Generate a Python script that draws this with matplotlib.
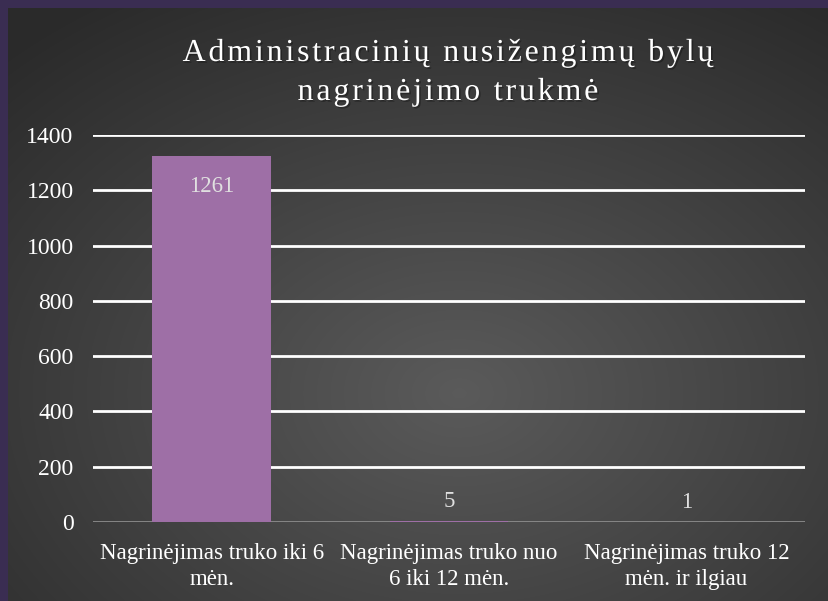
import numpy as np
import matplotlib.pyplot as plt
import matplotlib.patheffects as pe
from matplotlib.font_manager import FontProperties

# data
categories = ["Nagrinėjimas truko iki 6\nmėn.",
              "Nagrinėjimas truko nuo\n6 iki 12 mėn.",
              "Nagrinėjimas truko 12\nmėn. ir ilgiau"]
bar_values = [1325, 5, 1]          # drawn bar heights
label_values = ["1261", "5", "1"]  # data labels as printed
yticks = [0, 200, 400, 600, 800, 1000, 1200, 1400]
title_lines = ["Administracinių nusižengimų bylų", "nagrinėjimo trukmė"]

serif = ["Liberation Serif", "DejaVu Serif"]

fig = plt.figure(figsize=(8.29, 6.01), dpi=100)
fig.patch.set_facecolor("#3a2d52")

# dark panel with a soft radial glow
bg = fig.add_axes([8 / 829, 0, 821 / 829, 593 / 601])
w, h = 821, 593
xx, yy = np.meshgrid(np.linspace(0, 1, w), np.linspace(0, 1, h))
r = np.sqrt(((xx - 0.55) / 0.8) ** 2 + ((yy - 0.65) / 0.8) ** 2)
g = np.clip(1 - r, 0, 1) ** 1.0
shade = 0.165 + 0.19 * g
img = np.dstack([shade, shade, shade])
bg.imshow(img, aspect="auto", extent=[0, 1, 0, 1], origin="upper")
bg.axis("off")

# plot area: x 93..805 px, y 135..522 px for 1400..0
ax = fig.add_axes([93 / 829, (601 - 522) / 601, 712 / 829, 387 / 601])
ax.set_facecolor("none")
x = np.arange(len(categories))
ax.bar(x, bar_values, width=0.5, color="#9e6fa6", zorder=3)
ax.set_xlim(-0.5, 2.5)
ax.set_ylim(0, 1400)
ax.set_yticks(yticks)
for v in yticks[1:]:
    ax.axhline(v, color="white", lw=2, zorder=1)
ax.axhline(0, color="#8c8c8c", lw=2, zorder=2)
for s in ax.spines.values():
    s.set_visible(False)
ax.tick_params(length=0, colors="white", labelsize=17, pad=14)
ax.tick_params(axis="x", labelsize=16.5, pad=15)
ax.set_xticks(x)
ax.set_xticklabels(categories, family=serif, linespacing=1.3)
for t in ax.get_yticklabels():
    t.set_family(serif)

for i, (v, lab) in enumerate(zip(bar_values, label_values)):
    if v > 200:
        ax.text(i, v - 75, lab, ha="center", va="top", color="#e0e0e0",
                fontsize=16.5, family=serif, zorder=4)
    else:
        ax.text(i, v + 30, lab, ha="center", va="bottom", color="#e0e0e0",
                fontsize=16.5, family=serif, zorder=4)

# title with letter spacing, drawn char by char
fp = FontProperties(family=serif, size=23)
renderer = fig.canvas.get_renderer()
tracking = 2.8  # px between letters
shadow = [pe.withSimplePatchShadow(offset=(1.2, -1.2), shadow_rgbFace="black", alpha=0.3)]


def char_w(ch):
    if ch == " ":
        return renderer.points_to_pixels(23) * 0.25
    return renderer.get_text_width_height_descent(ch, fp, ismath=False)[0]


for line, yc in zip(title_lines, [50, 89]):
    widths = [char_w(c) for c in line]
    total = sum(widths) + tracking * (len(line) - 1)
    xp = 448 - total / 2
    for c, cw in zip(line, widths):
        if c != " ":
            fig.text(xp / 829, 1 - yc / 601, c, ha="left", va="center_baseline",
                     color="white", fontproperties=fp, path_effects=shadow)
        xp += cw + tracking

fig.savefig("out.png", dpi=100, facecolor=fig.get_facecolor())
